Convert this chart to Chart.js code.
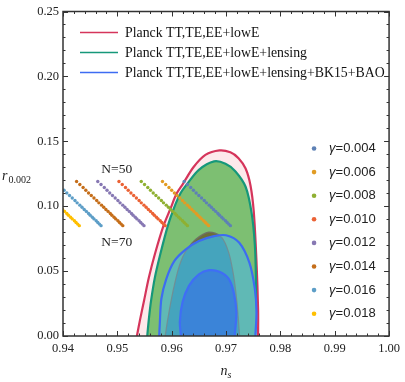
<!DOCTYPE html>
<html>
<head>
<meta charset="utf-8">
<script src="https://cdn.jsdelivr.net/npm/chart.js@4.4.1/dist/chart.umd.min.js"></script>
<style>
  body { margin: 0; background: #fff; }
  canvas { display: block; }
</style>
</head>
<body>
<canvas id="plot" width="405" height="382"></canvas>
<script>
// r_0.002 along every gamma line, N = 50 ... 70
const rByN = [0.1190, 0.1167, 0.1144, 0.1123, 0.1102, 0.1082, 0.1063, 0.1044, 0.1026, 0.1008, 0.0992,
              0.0975, 0.0960, 0.0944, 0.0930, 0.0915, 0.0902, 0.0888, 0.0875, 0.0862, 0.0850];

// n_s along every gamma line, N = 50 ... 70
const ns004 = [0.9623, 0.9629, 0.9635, 0.9640, 0.9645, 0.9650, 0.9655, 0.9660, 0.9664, 0.9669, 0.9673,
               0.9677, 0.9681, 0.9685, 0.9688, 0.9692, 0.9695, 0.9699, 0.9702, 0.9705, 0.9708];
const ns006 = [0.9583, 0.9589, 0.9595, 0.9600, 0.9605, 0.9610, 0.9615, 0.9620, 0.9624, 0.9629, 0.9633,
               0.9637, 0.9641, 0.9645, 0.9648, 0.9652, 0.9655, 0.9659, 0.9662, 0.9665, 0.9668];
const ns008 = [0.9544, 0.9550, 0.9556, 0.9561, 0.9566, 0.9571, 0.9576, 0.9581, 0.9585, 0.9590, 0.9594,
               0.9598, 0.9602, 0.9606, 0.9609, 0.9613, 0.9616, 0.9620, 0.9623, 0.9626, 0.9629];
const ns010 = [0.9503, 0.9509, 0.9515, 0.9520, 0.9525, 0.9530, 0.9535, 0.9540, 0.9544, 0.9549, 0.9553,
               0.9557, 0.9561, 0.9565, 0.9568, 0.9572, 0.9575, 0.9579, 0.9582, 0.9585, 0.9588];
const ns012 = [0.9464, 0.9470, 0.9476, 0.9481, 0.9486, 0.9491, 0.9496, 0.9501, 0.9505, 0.9510, 0.9514,
               0.9518, 0.9522, 0.9526, 0.9529, 0.9533, 0.9536, 0.9540, 0.9543, 0.9546, 0.9549];
const ns014 = [0.9425, 0.9431, 0.9437, 0.9442, 0.9447, 0.9452, 0.9457, 0.9462, 0.9466, 0.9471, 0.9475,
               0.9479, 0.9483, 0.9487, 0.9490, 0.9494, 0.9497, 0.9501, 0.9504, 0.9507, 0.9510];
const ns016 = [0.9385, 0.9391, 0.9397, 0.9402, 0.9407, 0.9412, 0.9417, 0.9422, 0.9426, 0.9431, 0.9435,
               0.9439, 0.9443, 0.9447, 0.9450, 0.9454, 0.9457, 0.9461, 0.9464, 0.9467, 0.9470];
const ns018 = [0.9345, 0.9351, 0.9357, 0.9362, 0.9367, 0.9372, 0.9377, 0.9382, 0.9386, 0.9391, 0.9395,
               0.9399, 0.9403, 0.9407, 0.9410, 0.9414, 0.9417, 0.9421, 0.9424, 0.9427, 0.9430];

const gammaLabels = ['0.004', '0.006', '0.008', '0.010', '0.012', '0.014', '0.016', '0.018'];
const gammaNs = [ns004, ns006, ns008, ns010, ns012, ns014, ns016, ns018];

// Planck contours, [n_s, r] going round each region
const planckTT = [[0.9536, 0], [0.9542, 0.013], [0.9549, 0.027], [0.9558, 0.045], [0.9569, 0.063],
  [0.9585, 0.085], [0.9598, 0.0984], [0.9609, 0.1098], [0.9621, 0.1174], [0.9640, 0.1300],
  [0.9662, 0.1395], [0.9688, 0.1430], [0.9708, 0.1415], [0.9723, 0.1370], [0.9736, 0.1290],
  [0.9745, 0.116], [0.9751, 0.096], [0.9756, 0.058], [0.9759, 0.020], [0.9759, 0]];
const planckLens = [[0.9555, 0], [0.9558, 0.013], [0.9562, 0.027], [0.9569, 0.045], [0.9579, 0.063],
  [0.9593, 0.085], [0.9604, 0.0984], [0.9616, 0.1098], [0.9629, 0.1174], [0.9650, 0.1280],
  [0.9678, 0.1345], [0.9699, 0.1327], [0.9717, 0.1270], [0.9736, 0.1150], [0.9747, 0.095],
  [0.9753, 0.0705], [0.9755, 0.045], [0.9755, 0.020], [0.9754, 0]];
const planckLens68 = [[0.9588, 0], [0.9593, 0.0135], [0.9602, 0.0337], [0.9614, 0.054], [0.9629, 0.0667],
  [0.9644, 0.0743], [0.9668, 0.0799], [0.9690, 0.0769], [0.9705, 0.0642], [0.9714, 0.0464],
  [0.9720, 0.0261], [0.9725, 0]];
const planckBK = [[0.9577, 0], [0.9578, 0.0084], [0.9581, 0.0287], [0.9590, 0.0439], [0.9605, 0.0578],
  [0.9626, 0.0667], [0.9650, 0.0731], [0.9678, 0.0769], [0.9700, 0.0776], [0.9724, 0.0720],
  [0.9743, 0.0565], [0.9753, 0.0363], [0.9756, 0.0185], [0.9754, 0]];
const planckOverlap = [[0.9588, 0], [0.9593, 0.0135], [0.9602, 0.0337], [0.9614, 0.054], [0.9628, 0.0665],
  [0.9650, 0.0729], [0.9678, 0.0767], [0.9692, 0.0760], [0.9705, 0.0642], [0.9714, 0.0464],
  [0.9720, 0.0261], [0.9725, 0]];
const planckBK68 = [[0.9617, 0], [0.9615, 0.0109], [0.9620, 0.0261], [0.9632, 0.0388], [0.9650, 0.0475],
  [0.9669, 0.0507], [0.9688, 0.0495], [0.9705, 0.0440], [0.9714, 0.0337], [0.9719, 0.0185], [0.9716, 0]];

const contourLabels = ['Planck TT,TE,EE+lowE', 'Planck TT,TE,EE+lowE+lensing',
                       'Planck TT,TE,EE+lowE+lensing+BK15+BAO'];

const gammaColors = ['#5e81b5', '#e19c24', '#8fb032', '#eb6235', '#8778b3', '#c56e1a', '#5d9ec7', '#ffbf00'];
const SERIF = "'Liberation Serif', 'Times New Roman', serif";
const SANS = "'Liberation Sans', Arial, sans-serif";

function contour(pts, label, fillColor, lineColor, width, order) {
  return {
    label: label,
    data: pts.map(p => ({ x: p[0], y: p[1] })),
    showLine: true,
    fill: fillColor ? 'shape' : false,
    backgroundColor: fillColor || 'transparent',
    borderColor: lineColor,
    borderWidth: width,
    pointRadius: 0,
    tension: 0.3,
    clip: 0,
    order: order
  };
}

const datasets = [
  contour(planckTT, contourLabels[0], '#fde9eb', '#d5355b', 2.2, 20),
  contour(planckLens, contourLabels[1], '#7dbf72', '#16987a', 2.2, 19),
  contour(planckLens68, '', '#6d6f36', 'rgba(110,110,100,0.9)', 1.5, 18),
  contour(planckBK, contourLabels[2], '#60b9b5', 'rgba(0,0,0,0)', 0, 17),
  contour(planckOverlap, '', '#45a4bd', 'rgba(120,135,140,0.8)', 1.2, 16),
  contour(planckBK, '', null, '#3d6cf2', 2.2, 15),
  contour(planckBK68, '', '#3b84d8', '#3f6ef5', 2.2, 14)
];

gammaNs.forEach((ns, i) => {
  datasets.push({
    label: '\u03b3=' + gammaLabels[i],
    data: ns.map((v, k) => ({ x: v, y: rByN[k] })),
    showLine: false,
    pointRadius: 1.7,
    pointBorderWidth: 0,
    pointBackgroundColor: gammaColors[i],
    backgroundColor: gammaColors[i],
    clip: 0,
    order: 1
  });
});

const decor = {
  id: 'decor',
  afterDraw(chart) {
    const { ctx, chartArea: a, scales } = chart;
    const x = scales.x, y = scales.y;
    ctx.save();

    // frame with inward ticks on all sides
    ctx.strokeStyle = '#333';
    ctx.lineWidth = 1.5;
    ctx.strokeRect(a.left, a.top, a.right - a.left, a.bottom - a.top);
    ctx.lineWidth = 1;
    ctx.beginPath();
    for (let i = 0; i <= 30; i++) {
      const px = Math.round(x.getPixelForValue(0.94 + i * 0.002)) + 0.5;
      const len = i % 5 === 0 ? 5 : 2.5;
      ctx.moveTo(px, a.bottom); ctx.lineTo(px, a.bottom - len);
      ctx.moveTo(px, a.top); ctx.lineTo(px, a.top + len);
    }
    for (let j = 0; j <= 25; j++) {
      const py = Math.round(y.getPixelForValue(j * 0.01)) + 0.5;
      const len = j % 5 === 0 ? 5 : 2.5;
      ctx.moveTo(a.left, py); ctx.lineTo(a.left + len, py);
      ctx.moveTo(a.right, py); ctx.lineTo(a.right - len, py);
    }
    ctx.stroke();

    // axis titles
    ctx.fillStyle = '#222';
    ctx.textBaseline = 'alphabetic';
    ctx.textAlign = 'left';
    ctx.font = 'italic 14px ' + SERIF;
    const nw = ctx.measureText('n').width;
    ctx.font = 'italic 10px ' + SERIF;
    const sw = ctx.measureText('s').width;
    const cx = (a.left + a.right) / 2 - (nw + sw) / 2;
    ctx.font = 'italic 14px ' + SERIF;
    ctx.fillText('n', cx, 375);
    ctx.font = 'italic 10px ' + SERIF;
    ctx.fillText('s', cx + nw, 378);

    ctx.font = 'italic 14px ' + SERIF;
    ctx.fillText('r', 2, 180);
    const rw = ctx.measureText('r').width;
    ctx.font = '10px ' + SERIF;
    ctx.fillText('0.002', 2 + rw + 1, 183);

    // N labels
    ctx.font = '13.5px ' + SERIF;
    ctx.textAlign = 'center';
    ctx.textBaseline = 'middle';
    ctx.fillText('N=50', x.getPixelForValue(0.9499), y.getPixelForValue(0.1286));
    ctx.fillText('N=70', x.getPixelForValue(0.9499), y.getPixelForValue(0.0723));

    // contour legend
    const ds = chart.data.datasets;
    [ds[0], ds[1], ds[5]].forEach((d, i) => {
      const yy = a.top + 21 + i * 20;
      ctx.strokeStyle = d.borderColor;
      ctx.lineWidth = 1.6;
      ctx.beginPath();
      ctx.moveTo(a.left + 17, yy);
      ctx.lineTo(a.left + 55, yy);
      ctx.stroke();
      ctx.fillStyle = '#111';
      ctx.textAlign = 'left';
      ctx.font = '13.8px ' + SERIF;
      ctx.fillText(contourLabels[i], a.left + 62, yy + 1);
    });

    // gamma legend
    gammaLabels.forEach((g, i) => {
      const yy = 148.5 + i * 23.6;
      ctx.fillStyle = gammaColors[i];
      ctx.beginPath();
      ctx.arc(a.right - 75, yy, 2.3, 0, Math.PI * 2);
      ctx.fill();
      ctx.fillStyle = '#222';
      ctx.font = 'italic 13px ' + SANS;
      ctx.fillText('\u03b3', a.right - 60, yy);
      const gw = ctx.measureText('\u03b3').width;
      ctx.font = '13px ' + SANS;
      ctx.fillText('=' + g, a.right - 60 + gw, yy);
    });
    ctx.restore();
  }
};

new Chart(document.getElementById('plot').getContext('2d'), {
  type: 'scatter',
  data: { datasets: datasets },
  options: {
    responsive: false,
    animation: false,
    events: [],
    layout: { padding: { left: 0, top: 8, right: 13, bottom: 0 } },
    plugins: { legend: { display: false }, tooltip: { enabled: false } },
    scales: {
      x: {
        type: 'linear', min: 0.94, max: 1.0,
        grid: { display: false, drawTicks: false },
        border: { display: false },
        ticks: {
          stepSize: 0.01, padding: 5, color: '#222', maxRotation: 0, autoSkip: false,
          font: { family: SERIF, size: 12.5 },
          callback: v => v.toFixed(2)
        },
        afterFit: s => { s.height = 46; }
      },
      y: {
        type: 'linear', min: 0, max: 0.25,
        grid: { display: false, drawTicks: false },
        border: { display: false },
        ticks: {
          stepSize: 0.05, padding: 4, color: '#222', autoSkip: false,
          font: { family: SERIF, size: 12.5 },
          callback: v => v.toFixed(2)
        },
        afterFit: s => { s.width = 63; }
      }
    }
  },
  plugins: [decor]
});
</script>
</body>
</html>
